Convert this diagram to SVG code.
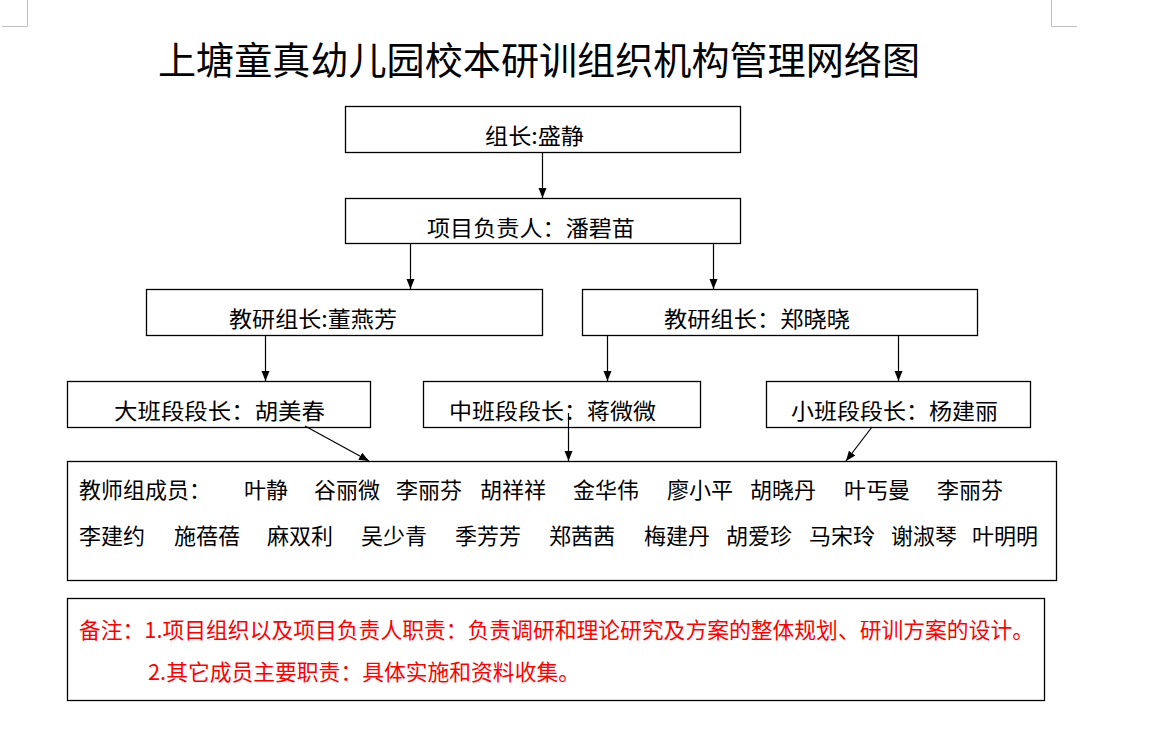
<svg xmlns="http://www.w3.org/2000/svg" width="1157" height="743" viewBox="0 0 1157 743">
<style>
text{font-family:"Noto Sans CJK SC","Liberation Sans",sans-serif;font-size:22px;fill:#000;}
.title{font-size:38px;}
.box{fill:#fff;stroke:#000;stroke-width:1.3;}
.note{fill:#ff0000;}
.conn{stroke:#000;stroke-width:1.2;fill:none;}
.mark{stroke:#c0c0c0;stroke-width:1;fill:none;}
</style>
<defs>
<marker id="arr" markerUnits="userSpaceOnUse" markerWidth="12" markerHeight="10" refX="10" refY="4" orient="auto">
<path d="M0,0 L10,4 L0,8 Z" fill="#000"/>
</marker>
</defs>
<rect width="1157" height="743" fill="#fff"/>
<g id="page-marks">
<path class="mark" d="M27.5,0 V26.5 H2"/>
<path class="mark" d="M1051.5,0 V26.5 H1077"/>
</g>
<text id="title" class="title" x="158" y="74" textLength="762" lengthAdjust="spacingAndGlyphs">上塘童真幼儿园校本研训组织机构管理网络图</text>

<g id="leader">
<rect class="box" x="345.5" y="106.5" width="395" height="46"/>
<text x="485" y="144" textLength="99" lengthAdjust="spacingAndGlyphs">组长:盛静</text>
</g>
<g id="project">
<rect class="box" x="345.5" y="198.5" width="395" height="45"/>
<text x="427" y="236" textLength="208" lengthAdjust="spacingAndGlyphs">项目负责人：潘碧苗</text>
</g>
<g id="research1">
<rect class="box" x="146.5" y="289.5" width="396" height="46"/>
<text x="229" y="327" textLength="168" lengthAdjust="spacingAndGlyphs">教研组长:董燕芳</text>
</g>
<g id="research2">
<rect class="box" x="582.5" y="289.5" width="395" height="46"/>
<text x="664" y="327" textLength="186" lengthAdjust="spacingAndGlyphs">教研组长：郑晓晓</text>
</g>
<g id="grade-big">
<rect class="box" x="67.5" y="381.5" width="303" height="46"/>
<text x="114" y="419" textLength="211" lengthAdjust="spacingAndGlyphs">大班段段长：胡美春</text>
</g>
<g id="grade-mid">
<rect class="box" x="423.5" y="381.5" width="277" height="46"/>
<text x="449" y="419" textLength="207" lengthAdjust="spacingAndGlyphs">中班段段长：蒋微微</text>
</g>
<g id="grade-small">
<rect class="box" x="766.5" y="381.5" width="264" height="46"/>
<text x="791" y="419" textLength="207" lengthAdjust="spacingAndGlyphs">小班段段长：杨建丽</text>
</g>
<g id="members">
<rect class="box" x="67.5" y="461.5" width="989" height="119"/>
<text x="79" y="498">教师组成员：</text>
<text x="244" y="498">叶静</text>
<text x="314" y="498">谷丽微</text>
<text x="396" y="498">李丽芬</text>
<text x="480" y="498">胡祥祥</text>
<text x="573" y="498">金华伟</text>
<text x="667" y="498">廖小平</text>
<text x="750" y="498">胡晓丹</text>
<text x="844" y="498">叶丐曼</text>
<text x="937" y="498">李丽芬</text>
<text x="79" y="544">李建约</text>
<text x="174" y="544">施蓓蓓</text>
<text x="267" y="544">麻双利</text>
<text x="361" y="544">吴少青</text>
<text x="455" y="544">季芳芳</text>
<text x="549" y="544">郑茜茜</text>
<text x="644" y="544">梅建丹</text>
<text x="726" y="544">胡爱珍</text>
<text x="809" y="544">马宋玲</text>
<text x="891" y="544">谢淑琴</text>
<text x="972" y="544">叶明明</text>
</g>
<g id="notes">
<rect class="box" x="67.5" y="598.5" width="977" height="102"/>
<text class="note" x="79" y="638" textLength="955" lengthAdjust="spacingAndGlyphs">备注：1.项目组织以及项目负责人职责：负责调研和理论研究及方案的整体规划、研训方案的设计。</text>
<text class="note" x="148" y="680" textLength="432" lengthAdjust="spacingAndGlyphs">2.其它成员主要职责：具体实施和资料收集。</text>
</g>
<g id="connectors">
<line class="conn" x1="542.5" y1="152.5" x2="542.5" y2="198" marker-end="url(#arr)"/>
<line class="conn" x1="410.5" y1="243.5" x2="410.5" y2="289" marker-end="url(#arr)"/>
<line class="conn" x1="713.5" y1="243.5" x2="713.5" y2="289" marker-end="url(#arr)"/>
<line class="conn" x1="265.5" y1="335.5" x2="265.5" y2="381" marker-end="url(#arr)"/>
<line class="conn" x1="607.5" y1="335.5" x2="607.5" y2="381" marker-end="url(#arr)"/>
<line class="conn" x1="898.5" y1="335.5" x2="898.5" y2="381" marker-end="url(#arr)"/>
<line class="conn" x1="305" y1="426" x2="369" y2="461" marker-end="url(#arr)"/>
<line class="conn" x1="568.5" y1="413" x2="568.5" y2="461" marker-end="url(#arr)"/>
<line class="conn" x1="872" y1="427" x2="846" y2="461" marker-end="url(#arr)"/>
</g>
</svg>
